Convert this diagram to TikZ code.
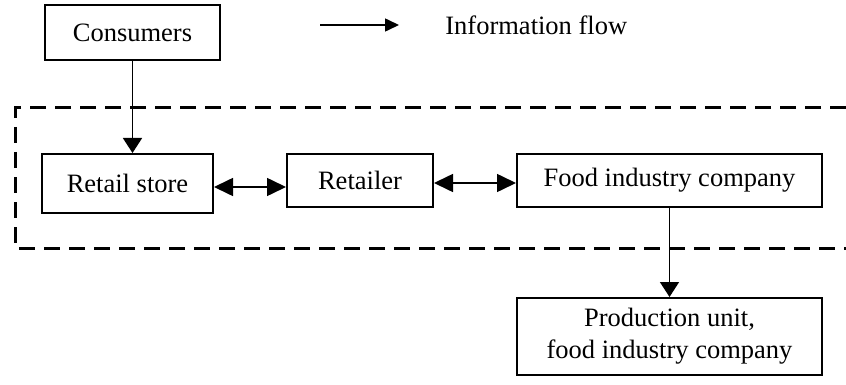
\documentclass[tikz,border=0pt]{standalone}
\usepackage{fontspec}
\setmainfont{Liberation Serif}
\usetikzlibrary{arrows.meta}
\tikzset{
  box/.style={draw, line width=1pt, inner sep=0pt, align=center, font=\fontsize{13.25pt}{16pt}\selectfont},
  flow/.style={line width=0.8pt, -{Triangle[length=7.5pt,width=9.5pt]}},
  both/.style={line width=0.8pt, {Triangle[length=9.5pt,width=9pt]}-{Triangle[length=9.5pt,width=9pt]}},
  boundary/.style={line width=1.5pt, dash pattern=on 8pt off 4.5pt}
}
\begin{document}
\begin{tikzpicture}[x=0.5pt,y=-0.5pt]
\useasboundingbox (0,0) rectangle (846,385);

% dashed boundary, open on the right
\draw[boundary] (846,108) -- (15,108) -- (15,248) -- (846,248);

% boxes
\node[box, minimum width=87.5pt, minimum height=27.5pt] (cons) at (132.5,33) {Consumers};
\node[box, minimum width=85.5pt, minimum height=29.5pt] (store) at (127.5,183.5) {Retail store};
\node[box, minimum width=73pt, minimum height=26.5pt] (retailer) at (360,180.5) {Retailer};
\node[box, minimum width=152.5pt, minimum height=26.5pt] (food) at (669.5,180.5) {Food industry company};
\node[box, minimum width=152.5pt, minimum height=38.5pt] (prod) at (669.5,336.5) {Production unit,\\food industry company};

% legend
\coordinate (lgA) at (320,25);
\coordinate (lgB) at (399,25);
\draw[line width=0.8pt, -{Triangle[length=7pt,width=6.5pt]}] (lgA) -- (lgB);
\node[anchor=west, inner sep=0pt, font=\fontsize{13.25pt}{16pt}\selectfont] (lgtext) at (445,25) {Information flow};

% connectors
\draw[flow] (cons.south) -- (cons.south |- store.north);
\path (store.east |- retailer.east) ++(0,6.5) coordinate (sA);
\draw[both] (sA) -- (sA -| retailer.west);
\path (retailer.east) ++(0,2.5) coordinate (rA);
\draw[both] (rA) -- (rA -| food.west);
\draw[flow] (food.south) -- (prod.north);
\end{tikzpicture}
\end{document}
